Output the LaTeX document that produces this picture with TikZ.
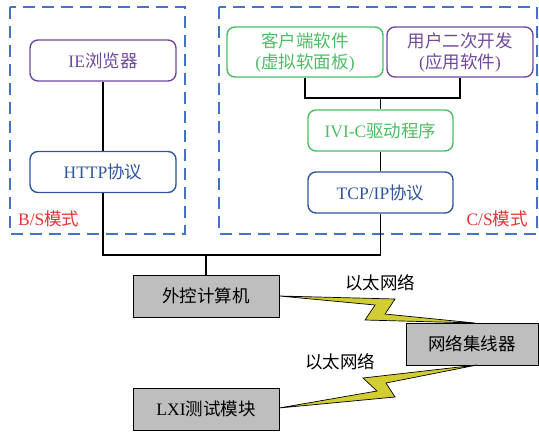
\documentclass[tikz,border=0pt]{standalone}
\usepackage{fontspec}
\setmainfont{Liberation Serif}
\newfontfamily\cjk{Noto Sans CJK SC}
\definecolor{cgreen}{RGB}{75,190,100}
\definecolor{cblue}{RGB}{47,85,160}
\definecolor{cdash}{RGB}{68,114,196}
\definecolor{cpurple}{RGB}{112,72,160}
\definecolor{cred}{RGB}{235,50,50}
\definecolor{cgray}{RGB}{190,190,190}
\definecolor{cyellow}{RGB}{210,205,50}
\begin{document}
\begin{tikzpicture}[x=1pt,y=-1pt,
  every node/.style={font=\fontsize{17.5}{21}\selectfont, inner sep=0pt},
  rbox/.style={draw, rounded corners=8pt, line width=1.4pt, align=center},
  gbox/.style={draw, fill=cgray, line width=1pt, minimum width=146pt, minimum height=42pt},
  link/.style={line width=1.1pt, black},
  frame/.style={draw=cdash, line width=1.4pt, dash pattern=on 12pt off 7pt},
  bolt/.style={fill=cyellow, draw=black, line width=0.7pt, line join=miter}]
\useasboundingbox (0,0) rectangle (539,432);
% dashed frames
\draw[frame] (10,7) rectangle (185,234);
\draw[frame] (219,7) rectangle (537,234);
% boxes
\node[rbox, draw=cpurple, text=cpurple, minimum width=146pt, minimum height=41pt] (ie) at (103,60.5) {IE{\cjk 浏览器}};
\node[rbox, draw=cblue, text=cblue, minimum width=146pt, minimum height=41pt] (http) at (103,172) {HTTP{\cjk 协议}};
\node[rbox, draw=cgreen, text=cgreen, minimum width=156pt, minimum height=50pt] (client) at (305,52) {{\cjk 客户端软件}\\({\cjk 虚拟软面板})};
\node[rbox, draw=cpurple, text=cpurple, minimum width=146pt, minimum height=50pt] (user) at (460,52) {{\cjk 用户二次开发}\\({\cjk 应用软件})};
\node[rbox, draw=cgreen, text=cgreen, minimum width=145pt, minimum height=41pt] (ivi) at (380.5,130.5) {IVI-C{\cjk 驱动程序}};
\node[rbox, draw=cblue, text=cblue, minimum width=145pt, minimum height=41pt] (tcp) at (380.5,192.5) {TCP/IP{\cjk 协议}};
\node[gbox] (pc) at (206,296) {\cjk 外控计算机};
\node[gbox, minimum width=132pt] (hub) at (472,344) {\cjk 网络集线器};
\node[gbox] (lxi) at (206,409) {LXI{\cjk 测试模块}};
% labels
\node[text=cred, anchor=west] (bs) at (18,219) {B/S{\cjk 模式}};
\node[text=cred, anchor=east] (cs) at (528,219) {C/S{\cjk 模式}};
\node (eth1) at (380,283) {\cjk 以太网络};
\node (eth2) at (340,362) {\cjk 以太网络};
% connectors
\coordinate (bus) at (206,255);
\coordinate (br) at (380.5,98);
\draw[link] (ie) -- (http);
\draw[link] (http.south) |- (bus) -| (tcp.south);
\draw[link] (bus) -- (pc.north);
\draw[link] (client.south) |- (br) -| (user.south);
\draw[link] (br) -- (ivi.north);
\draw[link] (ivi) -- (tcp);
% lightning bolts
\coordinate (b1s) at (pc.north east |- 0,296);
\coordinate (b1e) at (475,323);
\draw[bolt] (b1s) -- (395,299) -- (385,314) -- (b1e) -- (365,320) -- (375,305) -- cycle;
\coordinate (b2s) at (279,408);
\coordinate (b2e) at (477,365);
\draw[bolt] (b2s) -- (377,391) -- (363,378) -- (b2e) -- (386,383) -- (395,397) -- cycle;
\end{tikzpicture}
\end{document}
